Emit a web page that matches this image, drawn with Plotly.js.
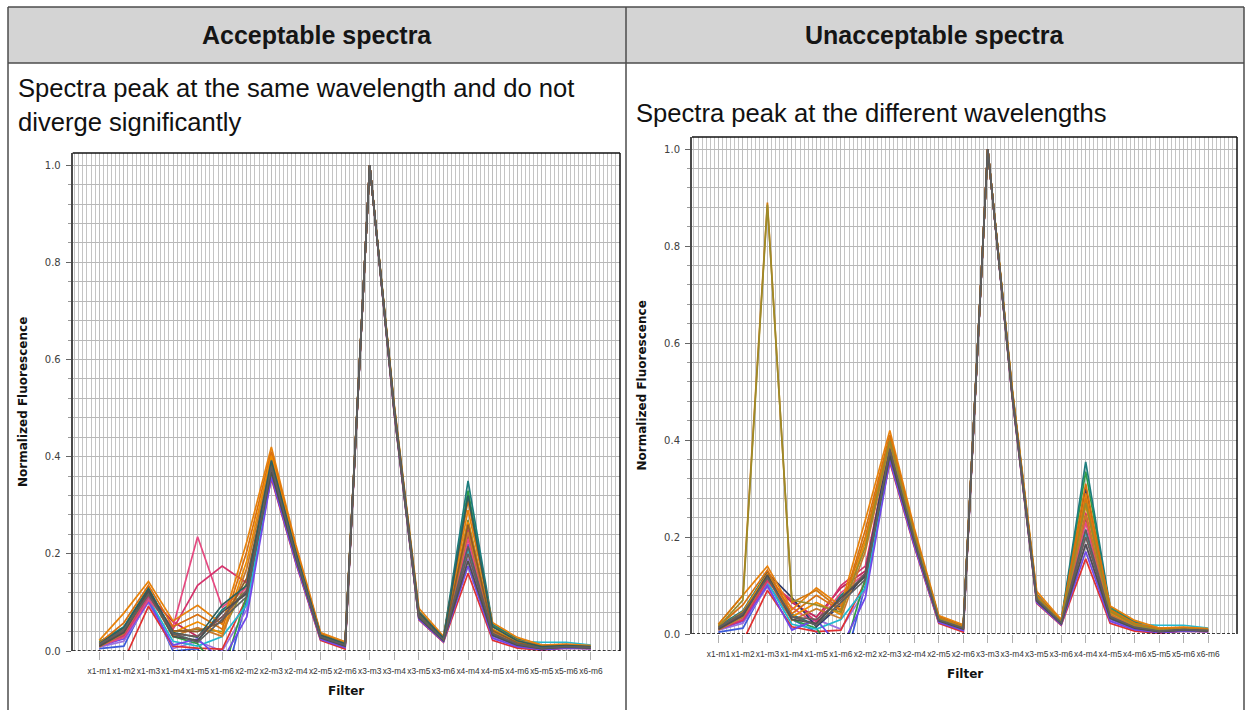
<!DOCTYPE html>
<html>
<head>
<meta charset="utf-8">
<script src="https://cdn.plot.ly/plotly-3.0.1.min.js"></script>
<style>
  html, body { margin: 0; padding: 0; background: #ffffff; }
  #chart { width: 1246px; height: 710px; }
</style>
</head>
<body>
<div id="chart"></div>
<script>
// ---------------- DATA ----------------
const filters = ['x1-m1','x1-m2','x1-m3','x1-m4','x1-m5','x1-m6','x2-m2','x2-m3','x2-m4','x2-m5','x2-m6',
                 'x3-m3','x3-m4','x3-m5','x3-m6','x4-m4','x4-m5','x4-m6','x5-m5','x5-m6','x6-m6'];
const yTicks = [0.0, 0.2, 0.4, 0.6, 0.8, 1.0];

const headerLeft = 'Acceptable spectra';
const headerRight = 'Unacceptable spectra';
const noteLeft1 = 'Spectra peak at the same wavelength and do not';
const noteLeft2 = 'diverge significantly';
const noteRight = 'Spectra peak at the different wavelengths';
const yTitle = 'Normalized Fluorescence';
const xTitle = 'Filter';

// Acceptable spectra (left) – one array per well
const acc01 = [0.005,0.010,0.110,0.000,0.005,-0.080,0.105,0.370,0.190,0.025,0.008,1.000,0.495,0.070,0.022,0.220,0.030,0.010,0.004,0.008,0.006];
const acc02 = [0.008,0.020,0.100,0.005,0.020,0.000,0.085,0.360,0.185,0.028,0.006,1.000,0.490,0.066,0.020,0.190,0.028,0.008,0.003,0.007,0.005];
const acc03 = [0.000,-0.020,0.092,0.010,0.006,0.004,0.110,0.355,0.180,0.022,0.004,1.000,0.487,0.064,0.018,0.160,0.022,0.006,0.002,0.006,0.005];
const acc04 = [0.020,0.040,0.120,0.030,0.015,-0.050,0.115,0.395,0.205,0.034,0.016,1.000,0.500,0.078,0.026,0.330,0.052,0.024,0.010,0.011,0.009];
const acc05 = [0.018,0.050,0.130,0.035,0.020,0.085,0.120,0.400,0.210,0.036,0.018,1.000,0.503,0.082,0.028,0.350,0.055,0.026,0.012,0.013,0.010];
const acc06 = [0.012,0.035,0.115,0.060,0.030,0.070,0.125,0.375,0.195,0.030,0.012,1.000,0.494,0.072,0.024,0.240,0.038,0.014,0.006,0.009,0.007];
const acc07 = [0.015,0.030,0.108,0.020,0.010,0.030,0.095,0.365,0.188,0.027,0.010,1.000,0.492,0.068,0.021,0.210,0.034,0.020,0.018,0.018,0.012];
const acc08 = [0.010,0.025,0.102,0.012,0.025,-0.020,0.070,0.358,0.182,0.024,0.007,1.000,0.489,0.065,0.019,0.175,0.026,0.009,0.003,0.006,0.005];
const acc09 = [0.014,0.045,0.118,0.040,0.045,0.040,0.140,0.388,0.200,0.031,0.013,1.000,0.497,0.075,0.025,0.270,0.045,0.018,0.007,0.010,0.008];
const acc10 = [0.010,0.028,0.105,0.050,0.235,0.090,0.130,0.378,0.192,0.029,0.011,1.000,0.493,0.071,0.023,0.230,0.036,0.013,0.005,0.009,0.007];
const acc11 = [0.012,0.032,0.112,0.045,0.135,0.175,0.140,0.382,0.196,0.030,0.012,1.000,0.495,0.073,0.024,0.250,0.040,0.015,0.006,0.010,0.008];
const acc12 = [0.022,0.078,0.143,0.062,0.094,0.055,0.225,0.420,0.218,0.038,0.019,1.000,0.506,0.088,0.030,0.290,0.058,0.028,0.012,0.014,0.011];
const acc13 = [0.016,0.058,0.135,0.050,0.075,0.045,0.205,0.410,0.212,0.035,0.015,1.000,0.502,0.080,0.027,0.310,0.050,0.022,0.010,0.012,0.009];
const acc14 = [0.012,0.045,0.125,0.038,0.060,0.035,0.185,0.402,0.206,0.033,0.013,1.000,0.498,0.076,0.025,0.265,0.044,0.018,0.008,0.010,0.008];
const acc15 = [0.008,0.036,0.118,0.030,0.048,0.030,0.170,0.392,0.200,0.031,0.011,1.000,0.496,0.074,0.024,0.245,0.040,0.016,0.007,0.009,0.007];
const acc16 = [0.010,0.040,0.122,0.042,0.040,0.060,0.150,0.385,0.198,0.030,0.012,1.000,0.497,0.074,0.024,0.260,0.042,0.017,0.007,0.010,0.008];
const acc17 = [0.015,0.048,0.128,0.038,0.028,0.095,0.135,0.392,0.203,0.033,0.015,1.000,0.500,0.079,0.027,0.320,0.050,0.021,0.009,0.011,0.009];
const acc18 = [0.012,0.040,0.118,0.035,0.030,0.070,0.125,0.372,0.192,0.028,0.011,1.000,0.493,0.070,0.022,0.200,0.035,0.013,0.005,0.009,0.007];
const acc19 = [0.010,0.038,0.124,0.030,0.022,0.080,0.118,0.368,0.190,0.027,0.010,1.000,0.491,0.068,0.021,0.185,0.032,0.012,0.005,0.008,0.006];
const acc20 = [0.014,0.044,0.116,0.036,0.018,0.065,0.112,0.380,0.195,0.029,0.012,1.000,0.495,0.072,0.023,0.215,0.036,0.014,0.006,0.009,0.007];

// Unacceptable spectra (right)
const una01 = [0.004,0.012,0.105,0.030,0.004,-0.090,0.100,0.368,0.188,0.024,0.007,1.000,0.494,0.069,0.021,0.215,0.030,0.010,0.004,0.008,0.006];
const una02 = [0.008,0.022,0.098,0.010,0.030,0.010,0.090,0.360,0.184,0.027,0.006,1.000,0.490,0.066,0.020,0.185,0.028,0.008,0.003,0.007,0.005];
const una03 = [0.000,-0.015,0.090,0.015,0.005,0.008,0.108,0.354,0.180,0.022,0.004,1.000,0.487,0.063,0.018,0.155,0.022,0.006,0.002,0.006,0.005];
const una04 = [0.018,0.040,0.118,0.030,0.012,-0.060,0.115,0.395,0.205,0.034,0.016,1.000,0.500,0.078,0.026,0.335,0.052,0.024,0.010,0.011,0.009];
const una05 = [0.016,0.048,0.128,0.040,0.018,0.080,0.120,0.400,0.210,0.036,0.018,1.000,0.503,0.082,0.028,0.355,0.056,0.026,0.012,0.013,0.010];
const una06 = [0.012,0.034,0.112,0.065,0.035,0.095,0.130,0.376,0.195,0.030,0.012,1.000,0.494,0.072,0.024,0.240,0.038,0.014,0.006,0.009,0.007];
const una07 = [0.015,0.030,0.106,0.020,0.010,0.030,0.095,0.365,0.188,0.027,0.010,1.000,0.492,0.068,0.021,0.210,0.034,0.020,0.018,0.018,0.012];
const una08 = [0.010,0.026,0.100,0.008,0.030,-0.030,0.075,0.358,0.182,0.024,0.007,1.000,0.489,0.065,0.019,0.170,0.026,0.009,0.003,0.006,0.005];
const una09 = [0.012,0.030,0.108,0.055,0.020,0.085,0.125,0.378,0.192,0.029,0.011,1.000,0.493,0.071,0.023,0.230,0.036,0.013,0.005,0.009,0.007];
const una10 = [0.010,0.028,0.110,0.070,0.025,0.100,0.140,0.382,0.196,0.030,0.012,1.000,0.495,0.073,0.024,0.250,0.040,0.015,0.006,0.010,0.008];
const una11 = [0.014,0.036,0.126,0.075,0.015,0.060,0.125,0.390,0.200,0.032,0.014,1.000,0.498,0.076,0.025,0.300,0.048,0.020,0.008,0.011,0.008];
const una12 = [0.020,0.080,0.140,0.050,0.095,0.058,0.235,0.420,0.218,0.038,0.019,1.000,0.506,0.088,0.030,0.290,0.058,0.028,0.012,0.014,0.011];
const una13 = [0.016,0.060,0.132,0.042,0.080,0.048,0.215,0.410,0.212,0.035,0.015,1.000,0.502,0.080,0.027,0.310,0.050,0.022,0.010,0.012,0.009];
const una14 = [0.012,0.046,0.124,0.035,0.065,0.040,0.190,0.402,0.206,0.033,0.013,1.000,0.498,0.076,0.025,0.265,0.044,0.018,0.008,0.010,0.008];
const una15 = [0.008,0.035,0.116,0.028,0.052,0.032,0.170,0.392,0.200,0.031,0.011,1.000,0.496,0.074,0.024,0.245,0.040,0.016,0.007,0.009,0.007];
const una16 = [0.020,0.080,0.890,0.065,0.090,0.050,0.200,0.405,0.208,0.034,0.014,1.000,0.500,0.078,0.026,0.280,0.048,0.020,0.009,0.011,0.009];
const una17 = [0.015,0.070,0.885,0.070,0.060,0.045,0.180,0.398,0.204,0.032,0.013,1.000,0.499,0.076,0.025,0.270,0.046,0.019,0.008,0.010,0.008];
const una18 = [0.012,0.040,0.118,0.035,0.030,0.070,0.125,0.372,0.192,0.028,0.011,1.000,0.493,0.070,0.022,0.200,0.035,0.013,0.005,0.009,0.007];
const una19 = [0.010,0.038,0.122,0.030,0.022,0.075,0.118,0.368,0.190,0.027,0.010,1.000,0.491,0.068,0.021,0.185,0.032,0.012,0.005,0.008,0.006];
const una20 = [0.014,0.044,0.116,0.036,0.018,0.065,0.112,0.380,0.195,0.029,0.012,1.000,0.495,0.072,0.023,0.215,0.036,0.014,0.006,0.009,0.007];

// ---------------- STYLE ----------------
const W = 1246, H = 710;
const fx = p => p / W;
const fy = p => 1 - p / H;

const leftSeries = [acc01,acc02,acc03,acc04,acc05,acc06,acc07,acc08,acc09,acc10,acc11,acc12,acc13,acc14,acc15,acc16,acc17,acc18,acc19,acc20];
const rightSeries = [una01,una02,una03,una04,una05,una06,una07,una08,una09,una10,una11,una12,una13,una14,una15,una16,una17,una18,una19,una20];
const leftColors = ['#3b5bdb','#9b6fe0','#e03131','#2f9e44','#1c7c7d','#c2255c','#22b8cf','#7048e8','#8f8a2a','#e64980',
                    '#d6336c','#e8820c','#d9700f','#f08c00','#c97a2a','#8b5a2b','#2b5f5f','#6e5a5a','#4f4f4f','#5e5e5e'];
const rightColors = ['#3b5bdb','#9b6fe0','#e03131','#2f9e44','#1c7c7d','#c2255c','#22b8cf','#7048e8','#e64980','#d6336c',
                     '#2d3a6b','#e8820c','#d9700f','#f08c00','#c97a2a','#d2780f','#9a8a2a','#6e5a5a','#4f4f4f','#5e5e5e'];

const xPos = filters.map((f, i) => i);
const traces = [];
leftSeries.forEach((s, k) => traces.push({
  type: 'scatter', mode: 'lines', x: xPos, y: s, xaxis: 'x', yaxis: 'y',
  line: { color: leftColors[k], width: 1.7 }, hoverinfo: 'skip', showlegend: false
}));
rightSeries.forEach((s, k) => traces.push({
  type: 'scatter', mode: 'lines', x: xPos, y: s, xaxis: 'x2', yaxis: 'y2',
  line: { color: rightColors[k], width: 1.7 }, hoverinfo: 'skip', showlegend: false
}));

const tickFont = { family: 'DejaVu Sans', size: 10, color: '#404040' };
const xTickFont = { family: 'Liberation Sans', size: 8.4, color: '#333333' };
function xAxis(domain, yref) {
  return {
    domain: domain, anchor: yref, range: [-1.08, 21.18],
    tickmode: 'array', tickvals: xPos, ticktext: filters, tickangle: 0,
    tickfont: xTickFont, ticks: 'outside', ticklen: 8, tickwidth: 1, tickcolor: '#b0b0b0',
    ticklabelstandoff: 4,
    showgrid: true, gridcolor: '#bdbdbd', gridwidth: 1,
    minor: { tickmode: 'linear', tick0: 0, dtick: 1/6, showgrid: true, gridcolor: '#c4c4c4', gridwidth: 1, ticks: '' },
    zeroline: false, showline: false, fixedrange: true
  };
}
function yAxis(domain, xref) {
  return {
    domain: domain, anchor: xref, range: [0, 1.025],
    tickmode: 'array', tickvals: yTicks, tickformat: '.1f',
    tickfont: tickFont, ticks: 'outside', ticklen: 5, tickwidth: 1, tickcolor: '#666',
    ticklabelstandoff: 3,
    showgrid: true, gridcolor: '#b8b8b8', gridwidth: 1,
    minor: { tickmode: 'linear', tick0: 0, dtick: 0.04, showgrid: true, gridcolor: '#b8b8b8', gridwidth: 1,
             ticks: 'outside', ticklen: 3, tickcolor: '#999' },
    showline: true, linecolor: '#4a4a4a', linewidth: 2,
    zeroline: false, fixedrange: true
  };
}

const L = { x0: 72.7, x1: 620, top: 153, bottom: 651 };
const R = { x0: 692, x1: 1237, top: 137, bottom: 634 };

const borderColor = '#4d4d4d';
const shapes = [
  { type: 'rect', xref: 'paper', yref: 'paper', x0: fx(8), x1: fx(1244), y0: fy(63), y1: fy(7),
    fillcolor: '#d4d4d4', line: { width: 0 }, layer: 'below' },
  { type: 'line', xref: 'paper', yref: 'paper', x0: fx(8), x1: fx(1244), y0: fy(7), y1: fy(7), line: { color: borderColor, width: 1.5 } },
  { type: 'line', xref: 'paper', yref: 'paper', x0: fx(8), x1: fx(1244), y0: fy(63), y1: fy(63), line: { color: borderColor, width: 1.5 } },
  { type: 'line', xref: 'paper', yref: 'paper', x0: fx(8), x1: fx(8), y0: fy(7), y1: 0, line: { color: borderColor, width: 1.5 } },
  { type: 'line', xref: 'paper', yref: 'paper', x0: fx(626), x1: fx(626), y0: fy(7), y1: 0, line: { color: borderColor, width: 1.5 } },
  { type: 'line', xref: 'paper', yref: 'paper', x0: fx(1244), x1: fx(1244), y0: fy(7), y1: 0, line: { color: borderColor, width: 1.5 } }
];
[['x', 'y'], ['x2', 'y2']].forEach(([xa, ya]) => {
  shapes.push({ type: 'line', xref: xa + ' domain', yref: ya + ' domain', x0: 0, x1: 1, y0: 1, y1: 1, line: { color: '#111', width: 1.5 } });
  shapes.push({ type: 'line', xref: xa + ' domain', yref: ya + ' domain', x0: 1, x1: 1, y0: 0, y1: 1, line: { color: '#111', width: 1.5 } });
  shapes.push({ type: 'line', xref: xa + ' domain', yref: ya, x0: 0, x1: 1, y0: 0, y1: 0, line: { color: '#000', width: 1.5, dash: '3px,2px' } });
});

const headFont = { family: 'Liberation Sans', size: 25, color: '#151515' };
const bodyFont = { family: 'Liberation Sans', size: 25.6, color: '#111' };
const axTitleFont = { family: 'DejaVu Sans', size: 12, color: '#111', weight: 'bold' };
const annotations = [
  { text: '<b>' + headerLeft + '</b>', xref: 'paper', yref: 'paper', x: fx(317), y: fy(35), xanchor: 'center', yanchor: 'middle', showarrow: false, font: headFont },
  { text: '<b>' + headerRight + '</b>', xref: 'paper', yref: 'paper', x: fx(935), y: fy(35), xanchor: 'center', yanchor: 'middle', showarrow: false, font: headFont },
  { text: noteLeft1, xref: 'paper', yref: 'paper', x: fx(16), y: fy(88), xanchor: 'left', yanchor: 'middle', showarrow: false, font: bodyFont },
  { text: noteLeft2, xref: 'paper', yref: 'paper', x: fx(16), y: fy(122), xanchor: 'left', yanchor: 'middle', showarrow: false, font: bodyFont },
  { text: noteRight, xref: 'paper', yref: 'paper', x: fx(634), y: fy(113), xanchor: 'left', yanchor: 'middle', showarrow: false, font: bodyFont },
  { text: yTitle, xref: 'paper', yref: 'paper', x: fx(23), y: fy((L.top + L.bottom) / 2), xanchor: 'center', yanchor: 'middle', textangle: -90, showarrow: false, font: axTitleFont },
  { text: yTitle, xref: 'paper', yref: 'paper', x: fx(641), y: fy((R.top + R.bottom) / 2), xanchor: 'center', yanchor: 'middle', textangle: -90, showarrow: false, font: axTitleFont },
  { text: xTitle, xref: 'paper', yref: 'paper', x: fx((L.x0 + L.x1) / 2), y: fy(L.bottom + 40), xanchor: 'center', yanchor: 'middle', showarrow: false, font: axTitleFont },
  { text: xTitle, xref: 'paper', yref: 'paper', x: fx((R.x0 + R.x1) / 2), y: fy(R.bottom + 40), xanchor: 'center', yanchor: 'middle', showarrow: false, font: axTitleFont }
];

const layout = {
  width: W, height: H, margin: { l: 0, r: 0, t: 0, b: 0 },
  paper_bgcolor: '#ffffff', plot_bgcolor: '#ffffff', showlegend: false,
  xaxis: xAxis([fx(L.x0), fx(L.x1)], 'y'),
  yaxis: yAxis([fy(L.bottom), fy(L.top)], 'x'),
  xaxis2: xAxis([fx(R.x0), fx(R.x1)], 'y2'),
  yaxis2: yAxis([fy(R.bottom), fy(R.top)], 'x2'),
  shapes: shapes, annotations: annotations
};

Plotly.newPlot('chart', traces, layout, { displayModeBar: false, staticPlot: true });
</script>
</body>
</html>
